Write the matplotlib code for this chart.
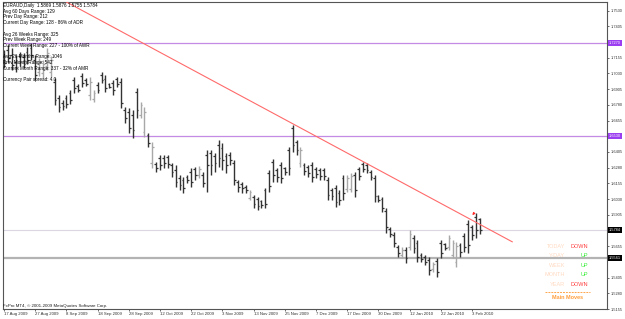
import numpy as np
import matplotlib.pyplot as plt

# EURAUD daily bars, 17 Aug 2009 .. 5 Feb 2010
HIGH = [1.7217, 1.7257, 1.7233, 1.7178, 1.7202, 1.7194, 1.7241, 1.7273, 1.7178, 1.7154,
        1.7138, 1.7233, 1.7170, 1.6995, 1.6860, 1.6820, 1.6860, 1.6900, 1.7003, 1.6947,
        1.7035, 1.6995, 1.7003, 1.6900, 1.6963, 1.7043, 1.7019, 1.6955, 1.6979, 1.7003,
        1.6995, 1.6764, 1.6756, 1.6741, 1.6915, 1.6804, 1.6764, 1.6558, 1.6486, 1.6327,
        1.6383, 1.6383, 1.6383, 1.6319, 1.6303, 1.6224, 1.6208, 1.6224, 1.6280, 1.6288,
        1.6296, 1.6248, 1.6423, 1.6423, 1.6399, 1.6502, 1.6478, 1.6399, 1.6407, 1.6343,
        1.6184, 1.6168, 1.6144, 1.6105, 1.6065, 1.6049, 1.6025, 1.6120, 1.6264, 1.6351,
        1.6280, 1.6327, 1.6288, 1.6446, 1.6621, 1.6502, 1.6446, 1.6319, 1.6303, 1.6327,
        1.6288, 1.6280, 1.6280, 1.6208, 1.6120, 1.6144, 1.6105, 1.6224, 1.6224, 1.6240,
        1.6248, 1.6288, 1.6327, 1.6319, 1.6264, 1.6224, 1.6065, 1.6049, 1.5961, 1.5810,
        1.5771, 1.5667, 1.5651, 1.5651, 1.5786, 1.5747, 1.5707, 1.5604, 1.5588, 1.5572,
        1.5532, 1.5564, 1.5707, 1.5683, 1.5747, 1.5707, 1.5691, 1.5683, 1.5763, 1.5866,
        1.5826, 1.5922, 1.5876]
LOW = [1.7074, 1.7122, 1.7059, 1.7043, 1.7090, 1.7074, 1.7106, 1.7138, 1.6979, 1.7011,
       1.6995, 1.7059, 1.7003, 1.6780, 1.6725, 1.6741, 1.6756, 1.6788, 1.6876, 1.6884,
       1.6923, 1.6931, 1.6820, 1.6804, 1.6876, 1.6955, 1.6884, 1.6915, 1.6860, 1.6923,
       1.6756, 1.6637, 1.6558, 1.6518, 1.6677, 1.6677, 1.6526, 1.6446, 1.6280, 1.6248,
       1.6264, 1.6280, 1.6280, 1.6208, 1.6128, 1.6105, 1.6081, 1.6160, 1.6128, 1.6184,
       1.6200, 1.6128, 1.6089, 1.6224, 1.6248, 1.6288, 1.6264, 1.6240, 1.6303, 1.6144,
       1.6089, 1.6081, 1.6081, 1.6025, 1.5961, 1.5945, 1.5961, 1.5961, 1.6089, 1.6168,
       1.6168, 1.6160, 1.6224, 1.6224, 1.6407, 1.6383, 1.6288, 1.6224, 1.6208, 1.6168,
       1.6200, 1.6184, 1.6184, 1.6025, 1.6025, 1.5969, 1.5985, 1.6025, 1.6089, 1.6089,
       1.6049, 1.6184, 1.6248, 1.6240, 1.6184, 1.6009, 1.6009, 1.5930, 1.5763, 1.5731,
       1.5651, 1.5572, 1.5564, 1.5524, 1.5628, 1.5604, 1.5532, 1.5532, 1.5508, 1.5429,
       1.5453, 1.5413, 1.5564, 1.5628, 1.5628, 1.5564, 1.5492, 1.5572, 1.5612, 1.5604,
       1.5707, 1.5723, 1.5755]
OPEN = [1.7170, 1.7217, 1.7178, 1.7122, 1.7170, 1.7162, 1.7202, 1.7233, 1.7138, 1.7043,
        1.7035, 1.7090, 1.7043, 1.6963, 1.6836, 1.6796, 1.6836, 1.6876, 1.6979, 1.6931,
        1.7011, 1.6979, 1.6860, 1.6828, 1.6939, 1.7019, 1.6987, 1.6947, 1.6955, 1.6987,
        1.6963, 1.6741, 1.6725, 1.6701, 1.6884, 1.6701, 1.6566, 1.6542, 1.6319, 1.6311,
        1.6359, 1.6359, 1.6367, 1.6303, 1.6264, 1.6200, 1.6184, 1.6208, 1.6248, 1.6272,
        1.6224, 1.6224, 1.6383, 1.6399, 1.6375, 1.6462, 1.6439, 1.6375, 1.6383, 1.6319,
        1.6168, 1.6152, 1.6128, 1.6041, 1.6049, 1.6033, 1.6017, 1.6105, 1.6240, 1.6327,
        1.6264, 1.6303, 1.6280, 1.6423, 1.6597, 1.6486, 1.6319, 1.6303, 1.6288, 1.6303,
        1.6272, 1.6264, 1.6264, 1.6184, 1.6105, 1.6120, 1.6081, 1.6200, 1.6113, 1.6113,
        1.6224, 1.6272, 1.6311, 1.6303, 1.6248, 1.6200, 1.6057, 1.6033, 1.5937, 1.5794,
        1.5747, 1.5651, 1.5588, 1.5628, 1.5651, 1.5723, 1.5683, 1.5588, 1.5572, 1.5548,
        1.5476, 1.5540, 1.5683, 1.5675, 1.5651, 1.5588, 1.5532, 1.5667, 1.5739, 1.5834,
        1.5810, 1.5890, 1.5869]
CLOSE = [1.7114, 1.7154, 1.7098, 1.7074, 1.7122, 1.7106, 1.7138, 1.7178, 1.7019, 1.7122,
         1.7106, 1.7194, 1.7138, 1.6820, 1.6764, 1.6772, 1.6788, 1.6820, 1.6915, 1.6900,
         1.6955, 1.6947, 1.6963, 1.6876, 1.6900, 1.6979, 1.6915, 1.6923, 1.6900, 1.6947,
         1.6796, 1.6677, 1.6597, 1.6582, 1.6741, 1.6780, 1.6725, 1.6478, 1.6446, 1.6280,
         1.6303, 1.6319, 1.6311, 1.6248, 1.6168, 1.6144, 1.6120, 1.6184, 1.6168, 1.6224,
         1.6272, 1.6160, 1.6303, 1.6303, 1.6319, 1.6359, 1.6343, 1.6303, 1.6343, 1.6184,
         1.6128, 1.6120, 1.6105, 1.6089, 1.5993, 1.5977, 1.5985, 1.5993, 1.6136, 1.6224,
         1.6208, 1.6200, 1.6248, 1.6280, 1.6462, 1.6423, 1.6423, 1.6256, 1.6240, 1.6208,
         1.6232, 1.6216, 1.6216, 1.6065, 1.6057, 1.6009, 1.6025, 1.6081, 1.6200, 1.6216,
         1.6105, 1.6216, 1.6272, 1.6264, 1.6208, 1.6057, 1.6025, 1.5961, 1.5810, 1.5755,
         1.5683, 1.5604, 1.5628, 1.5564, 1.5755, 1.5643, 1.5572, 1.5556, 1.5532, 1.5469,
         1.5516, 1.5453, 1.5604, 1.5643, 1.5723, 1.5683, 1.5659, 1.5612, 1.5651, 1.5667,
         1.5747, 1.5786, 1.5784]

DATE_LABELS = ["17 Aug 2009", "27 Aug 2009", "8 Sep 2009", "18 Sep 2009", "28 Sep 2009",
               "12 Oct 2009", "22 Oct 2009", "3 Nov 2009", "13 Nov 2009", "25 Nov 2009",
               "7 Dec 2009", "17 Dec 2009", "30 Dec 2009", "12 Jan 2010", "22 Jan 2010",
               "3 Feb 2010"]
# scale labels that are not hidden behind the coloured price boxes
PRICE_TICKS = [1.7530, 1.7405, 1.7155, 1.7030, 1.6905, 1.6780, 1.6655,
               1.6405, 1.6280, 1.6155, 1.6030, 1.5905, 1.5655, 1.5405,
               1.5280, 1.5155]

RESISTANCE = [1.7270, 1.6530]   # purple horizontal lines
SUPPORT = 1.5561                # grey line
LAST_PRICE = 1.5784
TREND_X = [16.0, 130.3]         # bar index of trend line ends
TREND_Y = [1.7599, 1.5690]

INFO_LINES = ["EURAUD,Daily  1.5869 1.5876 1.5755 1.5784",
              "Avg 60 Days Range: 129",
              "Prev Day Range: 212",
              "Current Day Range: 128 - 86% of ADR",
              "",
              "Avg 26 Weeks Range: 325",
              "Prev Week Range: 249",
              "Current Week Range: 227 - 100% of AWR",
              "",
              "Avg 26 Months Range: 1046",
              "Prev Month Range: 542",
              "Current Month Range: 337 - 32% of AMR",
              "",
              "Currency Pair spread: 4.0"]
MOVE_NAMES = ["TODAY", "Y-DAY", "WEEK", "MONTH", "YEAR"]
MOVE_DIRS = ["DOWN", "UP", "UP", "UP", "DOWN"]

W, H = 625, 319


def fx(x):
    return x / W


def fy(y):
    return 1 - y / H


def plotBars(ax):
    idx = np.arange(len(HIGH))
    up = np.array(CLOSE) > np.array(OPEN)
    colors = np.where(up, "#a8a8a8", "#333333")
    ax.vlines(idx, LOW, HIGH, colors=colors, lw=1.0)
    ax.hlines(OPEN, idx - 0.45, idx, colors=colors, lw=0.9)
    ax.hlines(CLOSE, idx, idx + 0.45, colors=colors, lw=0.9)


def priceBox(ax, p, face):
    ax.text(1.003, p, "%.4f" % p, transform=ax.get_yaxis_transform(), fontsize=2.8,
            color="white", va="center", ha="left", zorder=6, clip_on=False,
            bbox=dict(boxstyle="square,pad=0.25", fc=face, ec="none"))


def plotLines(ax):
    for p in RESISTANCE:
        ax.axhline(p, color="#c38ae6", lw=0.9, zorder=1)
        priceBox(ax, p, "#9b3df0")
    ax.axhline(LAST_PRICE, color="#dcd6e2", lw=0.8, zorder=1)
    ax.axhline(SUPPORT, color="#b3b3b3", lw=1.6, zorder=1)
    priceBox(ax, LAST_PRICE, "black")
    priceBox(ax, SUPPORT, "black")
    ax.plot(TREND_X, TREND_Y, color="#ff6a6a", lw=0.8, zorder=3)
    ax.annotate("", xy=(119.6, 1.5885), xytext=(120.9, 1.5932),
                arrowprops=dict(arrowstyle="-|>", color="#ff2a2a", lw=0.8,
                                mutation_scale=3))


def plotText(fig):
    y = 5.7
    for line in INFO_LINES:
        if line:
            fig.text(fx(3), fy(y), line, fontsize=3.3, va="center", ha="left", color="black")
        y += 5.6 if line else 6.0
    fig.text(fx(3), fy(306), "FxPro MT4, \u00a9 2001-2009 MetaQuotes Software Corp.",
             fontsize=3.2, va="center", ha="left", color="#202020")

    y = 246
    for name, d in zip(MOVE_NAMES, MOVE_DIRS):
        fig.text(fx(565), fy(y), name, fontsize=4.0, ha="right", va="center", color="#ffd9c0")
        fig.text(fx(588), fy(y), d, fontsize=4.0, ha="right", va="center",
                 color="#ff3b3b" if d == "DOWN" else "#33ee33")
        y += 9.6
    fig.add_artist(plt.Line2D([fx(545), fx(590)], [fy(292), fy(292)], color="#ffa64d",
                              lw=0.7, ls=(0, (2, 1))))
    fig.text(fx(568), fy(297.5), "Main Moves", fontsize=4.0, ha="center", va="center",
             color="#ffa040", fontweight="bold")


def main():
    plt.rcParams["font.family"] = ["Liberation Sans", "DejaVu Sans"]
    fig = plt.figure(figsize=(W / 100, H / 100), dpi=100)
    ax = fig.add_axes([fx(3), fy(309), fx(607) - fx(3), fy(2) - fy(309)])

    plotBars(ax)
    plotLines(ax)

    ax.set_xlim(-0.26, 154.6)
    ax.set_ylim(1.5158, 1.7599)
    ax.yaxis.tick_right()
    ax.set_yticks(PRICE_TICKS)
    ax.set_yticklabels(["%.4f" % p for p in PRICE_TICKS])
    ax.set_xticks(np.arange(0, 8 * len(DATE_LABELS), 8))
    ax.set_xticklabels(DATE_LABELS, ha="left")
    ax.tick_params(axis="y", labelsize=2.8, length=1.5, width=0.5, pad=1, colors="#303030")
    ax.tick_params(axis="x", labelsize=3.1, length=1.5, width=0.5, pad=0.8, colors="#303030")
    for s in ax.spines.values():
        s.set_color("#555555")
        s.set_linewidth(0.8)

    plotText(fig)
    fig.savefig("out.png", dpi=100)


if __name__ == "__main__":
    main()
